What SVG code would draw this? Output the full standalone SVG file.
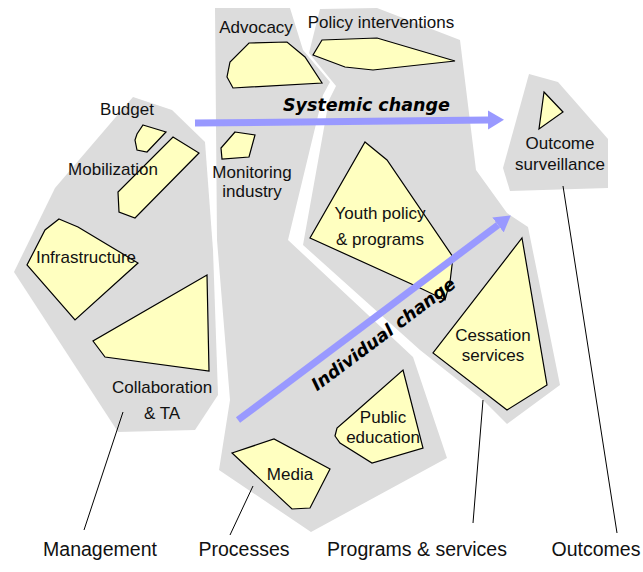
<svg xmlns="http://www.w3.org/2000/svg" width="643" height="572" viewBox="0 0 643 572">
<defs>
<marker id="head" markerUnits="userSpaceOnUse" markerWidth="17" markerHeight="20" refX="0" refY="9.5" orient="auto">
<path d="M0,0 L16,9.5 L0,19 Z" fill="#9999ff"/>
</marker>
<style>
.region{fill:#dcdcdc;stroke:none}
.shape{fill:#ffffc0;stroke:#000;stroke-width:1.2;stroke-linejoin:miter}
.lbl{font-family:"Liberation Sans",Arial,sans-serif;font-size:17px;fill:#111;text-anchor:middle}
.cat{font-family:"Liberation Sans",Arial,sans-serif;font-size:19.5px;fill:#111;text-anchor:middle}
.chg{font-family:"DejaVu Sans",Verdana,sans-serif;font-size:17.5px;font-weight:bold;font-style:italic;fill:#000}
.leader{stroke:#000;stroke-width:1;fill:none}
.arrow{stroke:#9999ff;stroke-width:7;fill:none;marker-end:url(#head)}
</style>
</defs>
<rect width="643" height="572" fill="#fff"/>

<g id="management">
<polygon class="region" points="133,97 172,110 205,142 213,250 218,395 195,430 118,432 14,272 55,188"/>
</g>
<g id="processes">
<polygon class="region" points="215,8 290,8 303,50 330,82 323,95 288,240 413,357 447,458 311,532 219,470 230,400 217,240"/>
</g>
<g id="programs-services">
<polygon class="region" points="320,9 377,8 460,40 476,170 507,213 528,227 560,385 507,424 483,400 420,350 303,245 329,100 336,86 309,53"/>
</g>
<g id="outcomes">
<polygon class="region" points="529,74 558,82 608,139 608,188 510,191 503,168"/>
</g>

<g id="budget">
<polygon class="shape" points="143,125 166,132 147,152 137,150 135,140 137,134"/>
<text class="lbl" x="127" y="115">Budget</text>
</g>
<g id="mobilization">
<polygon class="shape" points="173,137 199,153 135,218 119,212 118,192"/>
<text class="lbl" x="113" y="175">Mobilization</text>
</g>
<g id="infrastructure">
<polygon class="shape" points="59,219 78,227 138,263 75,320 27,265 45,230"/>
<text class="lbl" x="86" y="263">Infrastructure</text>
</g>
<g id="collaboration">
<polygon class="shape" points="207,275 209,371 105,357 93,341"/>
<text class="lbl" x="162" y="393">Collaboration</text>
<text class="lbl" x="162" y="419">&amp; TA</text>
</g>
<g id="advocacy">
<polygon class="shape" points="249,43 287,42 305,57 322,83 233,88 227,77 230,62"/>
<text class="lbl" x="256" y="33">Advocacy</text>
</g>
<g id="monitoring">
<polygon class="shape" points="235,132 255,135 249,157 222,159 221,148"/>
<text class="lbl" x="252" y="178">Monitoring</text>
<text class="lbl" x="252" y="197">industry</text>
</g>
<g id="media">
<polygon class="shape" points="232,453 274,439 330,469 310,508 292,509"/>
<text class="lbl" x="290" y="480">Media</text>
</g>
<g id="public-education">
<polygon class="shape" points="403,370 423,448 372,463 340,443 335,436 337,428 352,415"/>
<text class="lbl" x="383" y="423">Public</text>
<text class="lbl" x="383" y="443">education</text>
</g>
<g id="policy-interventions">
<polygon class="shape" points="322,40 377,38 455,61 373,70 345,67 313,55"/>
<text class="lbl" x="381" y="28">Policy interventions</text>
</g>
<g id="youth-policy">
<polygon class="shape" points="365,142 387,160 453,257 450,282 445,300 418,287 310,238"/>
<text class="lbl" x="380" y="219">Youth policy</text>
<text class="lbl" x="380" y="245">&amp; programs</text>
</g>
<g id="cessation">
<polygon class="shape" points="522,238 547,385 507,410 433,353"/>
<text class="lbl" x="493" y="341">Cessation</text>
<text class="lbl" x="493" y="361">services</text>
</g>
<g id="outcome-surveillance">
<polygon class="shape" points="544,92 563,112 539,129"/>
<text class="lbl" x="560" y="149">Outcome</text>
<text class="lbl" x="560" y="170">surveillance</text>
</g>

<g id="connectors">
<line class="leader" x1="123" y1="412" x2="84" y2="530"/>
<line class="leader" x1="253" y1="486" x2="230" y2="535"/>
<line class="leader" x1="483" y1="400" x2="473" y2="523"/>
<line class="leader" x1="563" y1="186" x2="617" y2="533"/>
<line class="arrow" x1="195" y1="123" x2="488" y2="120"/>
<line class="arrow" x1="238" y1="420" x2="498" y2="225"/>
</g>

<g id="labels">
<text class="chg" x="283" y="111">Systemic change</text>
<text class="chg" text-anchor="middle" transform="translate(387,339) rotate(-36.9)">Individual change</text>
<text class="cat" x="100" y="556">Management</text>
<text class="cat" x="244" y="556">Processes</text>
<text class="cat" x="417" y="556">Programs &amp; services</text>
<text class="cat" x="596" y="556">Outcomes</text>
</g>
</svg>
